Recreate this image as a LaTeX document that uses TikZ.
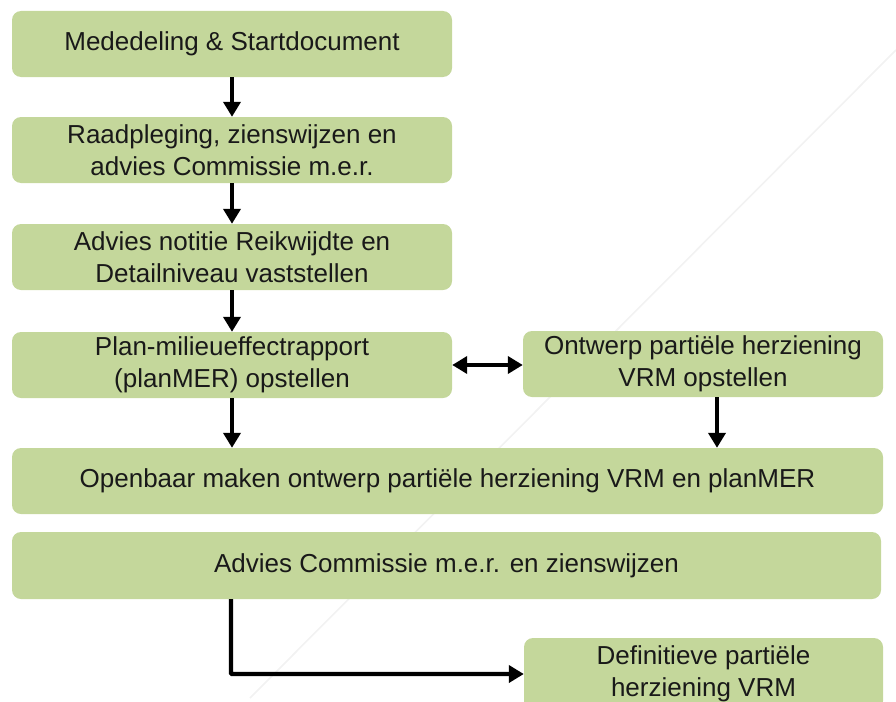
\documentclass[tikz,border=0pt]{standalone}
\usepackage{fontspec}
\setmainfont{Liberation Sans}
\usetikzlibrary{arrows.meta,calc}
\definecolor{boxgreen}{HTML}{C4D79B}
\tikzset{
  stepbox/.style={draw=none,fill=boxgreen,rounded corners=9pt,align=center,
    inner sep=0pt,font=\fontsize{26}{31.5}\selectfont,text=black!90},
  flow/.style={line width=4.4pt,-{Triangle[width=17pt,length=15pt]}},
  flowboth/.style={line width=4.4pt,{Triangle[width=17pt,length=15pt]}-{Triangle[width=17pt,length=15pt]}},
}
\begin{document}
\begin{tikzpicture}[x=1pt,y=-1pt]
\useasboundingbox (0,0) rectangle (896,701);
\begin{scope}
\clip (0,0) rectangle (896,701);
\draw[gray!10,line width=1.6pt] (896,50) -- (250,698);
\node[stepbox,minimum width=440pt,minimum height=66pt] (b1) at (232,44) {Mededeling \& Startdocument};
\node[stepbox,minimum width=440pt,minimum height=66pt] (b2) at (232,150) {Raadpleging, zienswijzen en\\advies Commissie m.e.r.};
\node[stepbox,minimum width=440pt,minimum height=66pt] (b3) at (232,257) {Advies notitie Reikwijdte en\\Detailniveau vaststellen};
\node[stepbox,minimum width=440pt,minimum height=66pt] (b4) at (232,365) {Plan-milieueffectrapport\\(planMER) opstellen};
\node[stepbox,minimum width=360pt,minimum height=66pt] (b5) at (703,364) {Ontwerp partiële herziening\\VRM opstellen};
\node[stepbox,minimum width=871pt,minimum height=66pt] (b6) at (447.5,481) {Openbaar maken ontwerp partiële herziening VRM en planMER};
\node[stepbox,minimum width=869pt,minimum height=67pt] (b7) at (446.5,565.5) {Advies Commissie m.e.r. en zienswijzen};
\node[stepbox,minimum width=359pt,minimum height=72pt] (b8) at (703.5,674) {Definitieve partiële\\herziening VRM};
\coordinate (b5out) at ($(b5.south)+(14,0)$);
\coordinate (b7out) at ($(b7.south)+(-215.5,0)$);
\draw[flow] (b1) -- (b2);
\draw[flow] (b2) -- (b3);
\draw[flow] (b3) -- (b4);
\draw[flow] (b4.south) -- (b4.south |- b6.north);
\draw[flow] (b5out) -- (b5out |- b6.north);
\draw[flowboth] (b4.east) -- (b5.west |- b4.east);
\draw[flow,rounded corners=1pt] (b7out) |- (b8.west);
\end{scope}
\end{tikzpicture}
\end{document}
